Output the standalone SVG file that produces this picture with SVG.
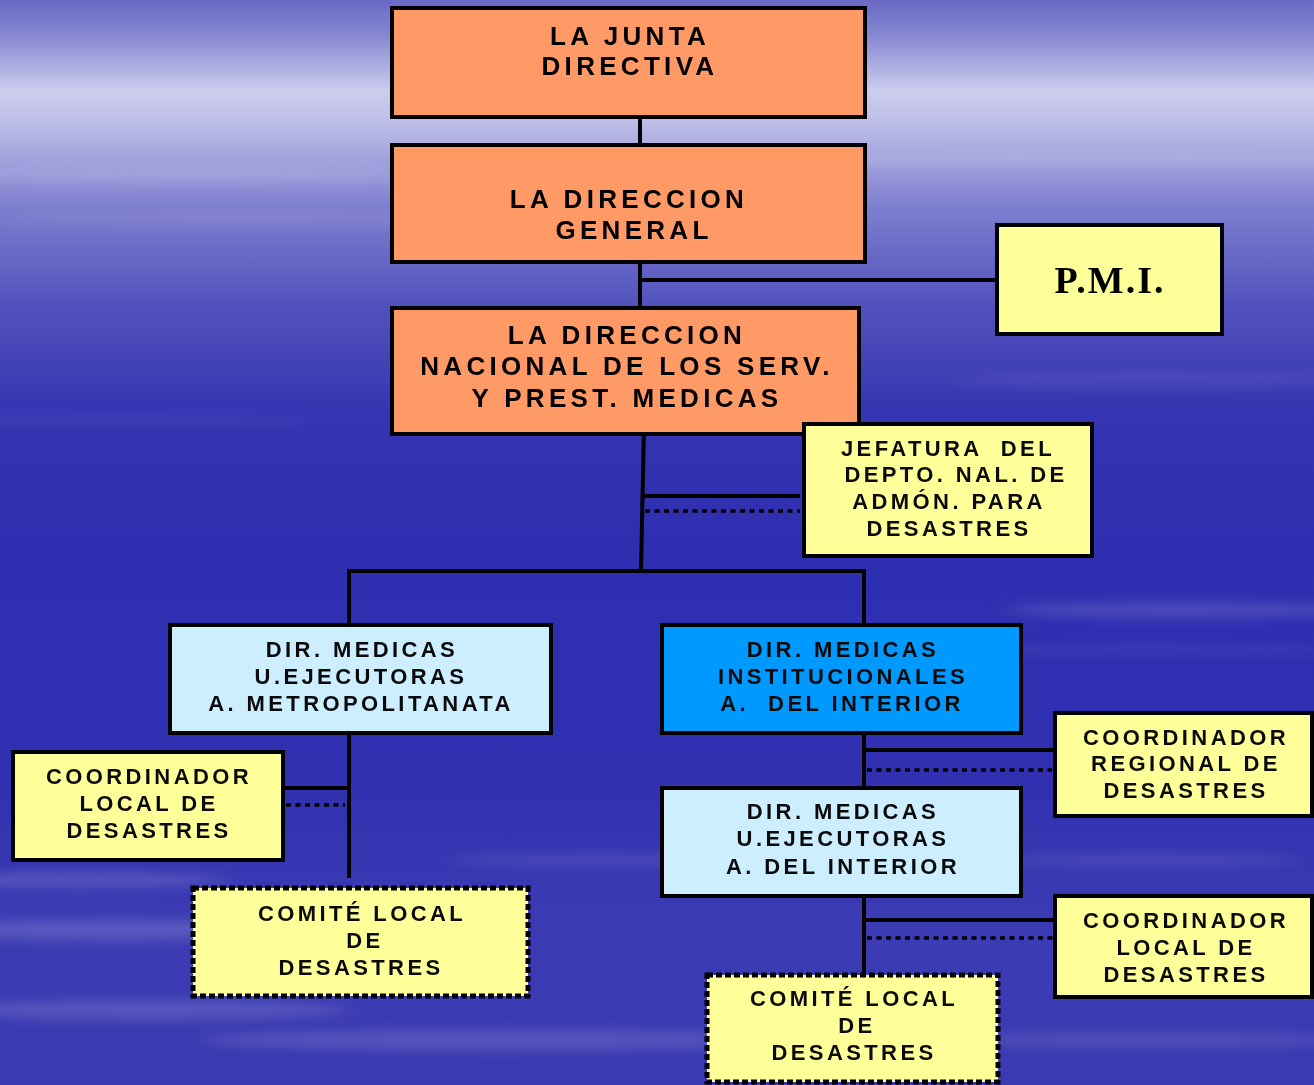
<svg xmlns="http://www.w3.org/2000/svg" width="1314" height="1085" viewBox="0 0 1314 1085">
<defs>
<linearGradient id="bg" x1="0" y1="0" x2="0" y2="1">
<stop offset="0" stop-color="#6a6ac6"/>
<stop offset="0.03" stop-color="#8484d2"/>
<stop offset="0.085" stop-color="#cdcdee"/>
<stop offset="0.12" stop-color="#b8b8e6"/>
<stop offset="0.19" stop-color="#7f7fd0"/>
<stop offset="0.28" stop-color="#5252bd"/>
<stop offset="0.38" stop-color="#3535b2"/>
<stop offset="0.5" stop-color="#2e2eb0"/>
<stop offset="0.7" stop-color="#2f2fb0"/>
<stop offset="0.85" stop-color="#3b3bb4"/>
<stop offset="1" stop-color="#3a3ab2"/>
</linearGradient>
<filter id="blur" x="-20%" y="-300%" width="140%" height="700%"><feGaussianBlur stdDeviation="14 6"/></filter>
</defs>
<style>
.bg{fill:url(#bg)}
.box{stroke:#000;stroke-width:4}
.orange{fill:#ff9966}
.yellow{fill:#ffff99}
.lblue{fill:#cceeff}
.blue{fill:#0099ff}
.dotted{stroke:#000;stroke-width:5;stroke-dasharray:6 3}
.big{font-family:"Liberation Sans",Arial,sans-serif;font-weight:bold;font-size:26px;letter-spacing:4.3px;fill:#000;text-anchor:middle}
.sm{font-family:"Liberation Sans",Arial,sans-serif;font-weight:bold;font-size:22px;letter-spacing:3.4px;fill:#0a0a0a;text-anchor:middle}
.pmi{font-family:"Liberation Serif","Times New Roman",serif;font-weight:bold;font-size:38px;letter-spacing:2px;fill:#000;text-anchor:middle}
.ln{stroke:#000;stroke-width:4;fill:none}
.dl{stroke:#000;stroke-width:3.5;fill:none;stroke-dasharray:5 4.5}
</style>
<rect class="bg" x="0" y="0" width="1314" height="1085"/>
<g filter="url(#blur)" fill="#ffffff">
<ellipse cx="200" cy="175" rx="260" ry="6" opacity="0.12"/>
<ellipse cx="1100" cy="160" rx="300" ry="6" opacity="0.12"/>
<ellipse cx="250" cy="220" rx="240" ry="5" opacity="0.1"/>
<ellipse cx="1150" cy="380" rx="200" ry="6" opacity="0.08"/>
<ellipse cx="120" cy="420" rx="200" ry="5" opacity="0.06"/>
<ellipse cx="1180" cy="610" rx="180" ry="8" opacity="0.14"/>
<ellipse cx="1150" cy="650" rx="200" ry="5" opacity="0.08"/>
<ellipse cx="80" cy="880" rx="150" ry="8" opacity="0.14"/>
<ellipse cx="120" cy="930" rx="200" ry="10" opacity="0.16"/>
<ellipse cx="500" cy="1040" rx="300" ry="10" opacity="0.14"/>
<ellipse cx="150" cy="1010" rx="200" ry="10" opacity="0.14"/>
<ellipse cx="1150" cy="1040" rx="200" ry="8" opacity="0.1"/>
<ellipse cx="600" cy="860" rx="150" ry="6" opacity="0.1"/>
<ellipse cx="1150" cy="860" rx="150" ry="6" opacity="0.1"/>
</g>

<g id="connectors">
<line class="ln" x1="640" y1="117" x2="640" y2="152"/>
<line class="ln" x1="640" y1="262" x2="640" y2="308"/>
<line class="ln" x1="640" y1="280" x2="997" y2="280"/>
<line class="ln" x1="644" y1="426" x2="641" y2="571"/>
<line class="ln" x1="643" y1="496" x2="800" y2="496"/>
<line class="dl" x1="645" y1="511" x2="800" y2="511"/>
<line class="ln" x1="347" y1="571" x2="866" y2="571"/>
<line class="ln" x1="349" y1="569" x2="349" y2="625"/>
<line class="ln" x1="864" y1="569" x2="864" y2="625"/>
<line class="ln" x1="349" y1="733" x2="349" y2="878"/>
<line class="ln" x1="283" y1="788" x2="349" y2="788"/>
<line class="dl" x1="286" y1="805" x2="345" y2="805"/>
<line class="ln" x1="864" y1="733" x2="864" y2="788"/>
<line class="ln" x1="864" y1="750" x2="1055" y2="750"/>
<line class="dl" x1="867" y1="770" x2="1052" y2="770"/>
<line class="ln" x1="864" y1="896" x2="864" y2="975"/>
<line class="ln" x1="864" y1="920" x2="1066" y2="920"/>
<line class="dl" x1="867" y1="938" x2="1062" y2="938"/>
</g>

<g id="junta">
<rect class="box orange" x="392" y="8" width="473" height="109"/>
<text class="big" x="630" y="45">LA JUNTA</text>
<text class="big" x="630" y="75">DIRECTIVA</text>
</g>
<g id="direccion-general">
<rect class="box orange" x="392" y="145" width="473" height="117"/>
<text class="big" x="629" y="208">LA DIRECCION</text>
<text class="big" x="634" y="239">GENERAL</text>
</g>
<g id="pmi">
<rect class="box yellow" x="997" y="225" width="225" height="109"/>
<text class="pmi" x="1110" y="293">P.M.I.</text>
</g>
<g id="direccion-nacional">
<rect class="box orange" x="392" y="308" width="467" height="126"/>
<text class="big" x="627" y="344">LA DIRECCION</text>
<text class="big" x="627" y="375">NACIONAL DE LOS SERV.</text>
<text class="big" x="627" y="407">Y PREST. MEDICAS</text>
</g>
<g id="jefatura">
<rect class="box yellow" x="804" y="424" width="288" height="132"/>
<text class="sm" x="948" y="456" xml:space="preserve">JEFATURA  DEL</text>
<text class="sm" x="956" y="482">DEPTO. NAL. DE</text>
<text class="sm" x="949" y="509">ADMÓN. PARA</text>
<text class="sm" x="949" y="536">DESASTRES</text>
</g>
<g id="dir-metropolitana">
<rect class="box lblue" x="170" y="625" width="381" height="108"/>
<text class="sm" x="362" y="657">DIR. MEDICAS</text>
<text class="sm" x="361" y="684">U.EJECUTORAS</text>
<text class="sm" x="361" y="711">A. METROPOLITANATA</text>
</g>
<g id="dir-institucionales">
<rect class="box blue" x="662" y="625" width="359" height="108"/>
<text class="sm" x="843" y="657">DIR. MEDICAS</text>
<text class="sm" x="843" y="684">INSTITUCIONALES</text>
<text class="sm" x="842" y="711" xml:space="preserve">A.  DEL INTERIOR</text>
</g>
<g id="coord-local-izq">
<rect class="box yellow" x="13" y="752" width="270" height="108"/>
<text class="sm" x="149" y="784">COORDINADOR</text>
<text class="sm" x="149" y="811">LOCAL DE</text>
<text class="sm" x="149" y="838">DESASTRES</text>
</g>
<g id="comite-izq">
<rect class="dotted yellow" x="193" y="888" width="335" height="108"/>
<text class="sm" x="362" y="921">COMITÉ LOCAL</text>
<text class="sm" x="365" y="948">DE</text>
<text class="sm" x="361" y="975">DESASTRES</text>
</g>
<g id="coord-regional">
<rect class="box yellow" x="1055" y="713" width="257" height="103"/>
<text class="sm" x="1186" y="745">COORDINADOR</text>
<text class="sm" x="1186" y="771">REGIONAL DE</text>
<text class="sm" x="1186" y="798">DESASTRES</text>
</g>
<g id="dir-interior">
<rect class="box lblue" x="662" y="788" width="359" height="108"/>
<text class="sm" x="843" y="819">DIR. MEDICAS</text>
<text class="sm" x="843" y="846">U.EJECUTORAS</text>
<text class="sm" x="843" y="874">A. DEL INTERIOR</text>
</g>
<g id="coord-local-der">
<rect class="box yellow" x="1055" y="896" width="257" height="101"/>
<text class="sm" x="1186" y="928">COORDINADOR</text>
<text class="sm" x="1186" y="955">LOCAL DE</text>
<text class="sm" x="1186" y="982">DESASTRES</text>
</g>
<g id="comite-der">
<rect class="dotted yellow" x="707" y="975" width="291" height="107"/>
<text class="sm" x="854" y="1006">COMITÉ LOCAL</text>
<text class="sm" x="857" y="1033">DE</text>
<text class="sm" x="854" y="1060">DESASTRES</text>
</g>
</svg>
